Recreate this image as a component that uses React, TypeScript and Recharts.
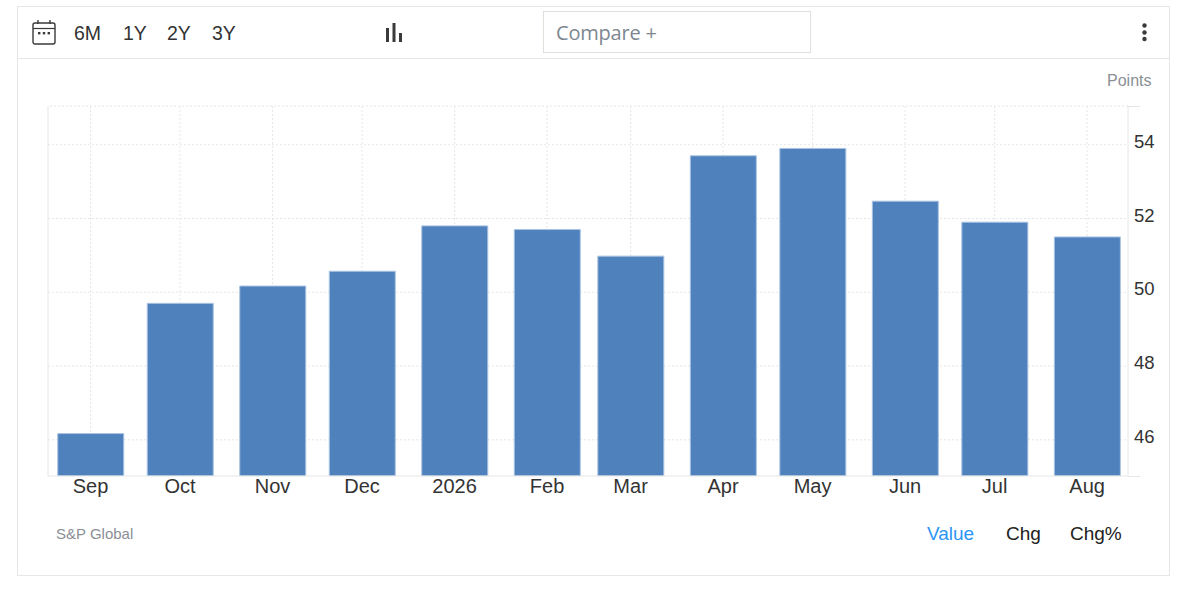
import React from "react";
import { BarChart, Bar, XAxis, YAxis, CartesianGrid, ReferenceLine } from "recharts";

const dayOffsets = [0, 30, 61, 91, 122, 153, 181, 212, 242, 273, 303, 334];
const monthLabels = ["Sep", "Oct", "Nov", "Dec", "2026", "Feb", "Mar", "Apr", "May", "Jun", "Jul", "Aug"];
const values = [46.17, 49.7, 50.17, 50.57, 51.8, 51.7, 50.98, 53.7, 53.9, 52.47, 51.9, 51.5];
const yTicks = [46, 48, 50, 52, 54];
const rangeButtons = [
  { label: "6M", x: 74 },
  { label: "1Y", x: 123 },
  { label: "2Y", x: 167 },
  { label: "3Y", x: 212 },
];

const rows = dayOffsets.map((day, i) => ({ day, value: values[i], label: monthLabels[i] }));
const ARIAL = "'Liberation Sans', Arial, sans-serif";
const GRID = "#e6e6e6";

const abs = (style: React.CSSProperties): React.CSSProperties => ({ position: "absolute", ...style });
const txt = (x: number, y: number, size: number, color: string, extra: React.CSSProperties = {}): React.CSSProperties =>
  abs({ left: x, top: y, fontSize: size, color, fontFamily: ARIAL, lineHeight: "22px", whiteSpace: "nowrap", ...extra });

const XTick = (props: any) => {
  const { x, y, payload } = props;
  const i = dayOffsets.indexOf(payload.value);
  return (
    <text x={x} y={y + 9} textAnchor="middle" fontSize={20} fill="#333333" fontFamily={ARIAL}>
      {monthLabels[i]}
    </text>
  );
};

const YTick = (props: any) => {
  const { x, y, payload } = props;
  return (
    <text x={x} y={y + 3} textAnchor="start" fontSize={18.5} fill="#333333" fontFamily={ARIAL}>
      {payload.value}
    </text>
  );
};

const CalendarIcon = () => (
  <svg style={abs({ left: 32, top: 19 })} width={24} height={28} viewBox="0 0 24 28" fill="none">
    <rect x="1" y="4" width="22" height="21" rx="2" stroke="#3a3a3a" strokeWidth="1.4" />
    <line x1="1" y1="9.5" x2="23" y2="9.5" stroke="#3a3a3a" strokeWidth="1.2" />
    <line x1="6" y1="1" x2="6" y2="5" stroke="#3a3a3a" strokeWidth="1.4" />
    <line x1="18" y1="1" x2="18" y2="5" stroke="#3a3a3a" strokeWidth="1.4" />
    <rect x="6" y="13" width="2.4" height="2.4" fill="#3a3a3a" />
    <rect x="10.8" y="13" width="2.4" height="2.4" fill="#3a3a3a" />
    <rect x="15.6" y="13" width="2.4" height="2.4" fill="#3a3a3a" />
  </svg>
);

const BarsIcon = () => (
  <svg style={abs({ left: 384, top: 22 })} width={20} height={22}>
    <rect x="2" y="6" width="3" height="14" fill="#3a3a3a" />
    <rect x="8.5" y="1" width="3" height="19" fill="#3a3a3a" />
    <rect x="15" y="11" width="3" height="9" fill="#3a3a3a" />
  </svg>
);

const MoreIcon = () => (
  <svg style={abs({ left: 1139, top: 22 })} width={12} height={22}>
    <circle cx="5.5" cy="3.5" r="2.2" fill="#3a3a3a" />
    <circle cx="5.5" cy="10.5" r="2.2" fill="#3a3a3a" />
    <circle cx="5.5" cy="17" r="2.2" fill="#3a3a3a" />
  </svg>
);

export default function App() {
  return (
    <div style={abs({ left: 0, top: 0, width: 1185, height: 590, background: "#fff", overflow: "hidden" })}>
      <div style={abs({ left: 17, top: 6, width: 1151, height: 568, border: `1px solid ${GRID}` })} />
      <div style={abs({ left: 18, top: 58, width: 1151, height: 1, background: GRID })} />
      <CalendarIcon />
      {rangeButtons.map((b) => (
        <div key={b.label} style={txt(b.x, 22, 19.5, "#333333")}>{b.label}</div>
      ))}
      <BarsIcon />
      <div style={abs({ left: 543, top: 11, width: 266, height: 40, border: "1px solid #e0e0da" })} />
      <div style={txt(556, 22, 20, "#7d8791", { fontFamily: "'Open Sans', sans-serif", letterSpacing: -0.2 })}>Compare +</div>
      <MoreIcon />
      <div style={txt(1107, 70, 16, "#8a8f96")}>Points</div>

      <div style={abs({ left: 0, top: 0 })}>
        <BarChart
          width={1185}
          height={590}
          data={rows}
          margin={{ top: 106, right: 0, bottom: 0, left: 48 }}
          barCategoryGap={0}
        >
          <CartesianGrid stroke={GRID} strokeDasharray="2 2" syncWithTicks />
          <XAxis
            dataKey="day"
            type="number"
            domain={[-14.25, 347.7]}
            allowDataOverflow
            ticks={dayOffsets}
            interval={0}
            height={114}
            axisLine={{ stroke: GRID }}
            tickLine={false}
            tick={<XTick />}
          />
          <YAxis
            orientation="right"
            type="number"
            domain={[45.02, 55.05]}
            allowDataOverflow
            ticks={yTicks}
            width={57}
            axisLine={{ stroke: GRID }}
            tickLine={false}
            tickMargin={0}
            tick={<YTick />}
          />
          <ReferenceLine y={55.05} stroke={GRID} strokeDasharray="2 2" />
          <ReferenceLine x={-14.25} stroke={GRID} />
          <Bar dataKey="value" barSize={66} fill="#4f81bd" stroke="#a9c3e2" strokeWidth={1} isAnimationActive={false} />
        </BarChart>
      </div>

      <div style={abs({ left: 1128, top: 106, width: 12, height: 1, background: GRID })} />
      <div style={abs({ left: 1128, top: 476, width: 12, height: 1, background: GRID })} />

      <div style={txt(56, 523, 15, "#8a8f96")}>S&amp;P Global</div>
      <div style={txt(927, 523, 19, "#2b95f5")}>Value</div>
      <div style={txt(1006, 523, 19, "#222222")}>Chg</div>
      <div style={txt(1070, 523, 19, "#222222")}>Chg%</div>
    </div>
  );
}
